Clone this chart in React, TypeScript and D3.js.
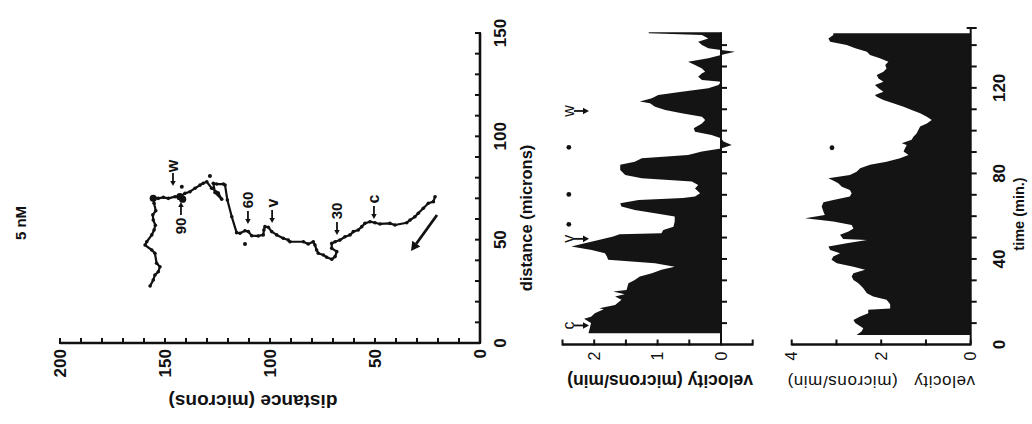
import React from "react";
import * as d3 from "d3";

const W = 1032;
const H = 424;
const FONT = "'Liberation Sans', Arial, sans-serif";

// Trajectory (5 nM): horizontal-axis distance and vertical-axis distance (microns)
const trackH = [21.4, 22.2, 24.6, 27.0, 29.4, 31.0, 33.3, 34.9, 40.5, 42.9, 47.6, 50.0, 52.4, 54.8, 56.3, 58.0, 60.3, 61.9, 64.3, 66.7, 69.0, 70.6, 70.6, 68.2, 69.0, 70.6, 73.0, 74.6, 77.0, 77.8, 78.6, 79.4, 81.8, 84.1, 90.5, 91.3, 93.7, 96.8, 99.2, 100.8, 102.4, 102.9, 103.2, 105.6, 108.7, 110.3, 111.9, 114.3, 115.9, 118.2, 120.3, 121.4, 122.2, 125.4, 127.0, 126.2, 123.0, 124.6, 127.8, 130.1, 131.8, 133.3, 135.7, 138.1, 140.5, 142.9, 145.2, 148.4, 150.8, 153.2, 155.6, 155.2, 154.4, 155.8, 155.6, 154.6, 155.2, 156.3, 158.7, 159.5, 156.3, 154.8, 154.0, 152.4, 153.2, 154.8, 155.6, 157.1];
const trackV = [70.8, 68.4, 67.6, 65.2, 62.8, 61.1, 59.5, 58.2, 57.1, 57.9, 57.6, 58.2, 58.7, 57.9, 56.3, 54.7, 53.9, 52.3, 51.4, 49.8, 49.0, 48.2, 45.8, 44.2, 41.8, 40.5, 41.5, 42.6, 43.4, 45.0, 47.4, 49.0, 47.9, 49.0, 49.0, 49.8, 50.7, 52.3, 53.9, 56.0, 56.3, 54.7, 52.3, 51.8, 51.9, 53.9, 54.3, 53.1, 53.4, 61.1, 69.2, 76.4, 76.9, 76.9, 77.3, 72.8, 69.6, 72.6, 74.9, 78.0, 77.3, 76.4, 74.9, 73.2, 72.4, 70.8, 70.8, 70.0, 70.5, 70.0, 70.0, 67.6, 64.0, 62.0, 59.5, 57.0, 54.7, 52.3, 49.0, 47.4, 45.0, 43.4, 38.6, 36.9, 34.5, 32.9, 30.5, 27.6];
const bigDotH = [155.6, 142.9, 141.6];
const bigDotV = [70.0, 70.8, 69.6];
const strayDotH = [128.6, 142.0, 111.9];
const strayDotV = [80.8, 75.6, 47.9];

const annLabels = ["w", "90", "60", "v", "30", "c"];
const annH = [146.2, 142.4, 110.5, 99.0, 68.1, 50.5];
const annV = [75.5, 68.7, 57.1, 57.6, 51.8, 59.5];
const annFromBelow = [false, true, false, false, false, false];

const distHTicks = [0, 50, 100, 150, 200];
const distVTicks = [0, 50, 100, 150];

// Velocity panel 1 (time in min, velocity microns/min)
const time1 = [5.3, 7.6, 10.0, 12.0, 13.0, 14.6, 16.5, 17.0, 18.5, 20.9, 22.4, 23.5, 24.8, 25.5, 28.6, 30.2, 31.8, 33.3, 34.9, 36.4, 38.0, 39.6, 41.1, 42.7, 44.2, 45.8, 47.3, 48.9, 50.5, 51.5, 52.0, 53.6, 55.1, 57.5, 59.8, 61.4, 62.9, 64.5, 66.0, 67.6, 68.5, 69.2, 70.7, 73.0, 74.6, 76.2, 77.7, 79.3, 81.6, 84.0, 85.5, 87.1, 88.6, 90.2, 91.7, 93.3, 94.9, 96.4, 98.0, 99.5, 101.1, 103.4, 105.0, 106.5, 108.1, 109.7, 111.2, 112.8, 113.6, 115.1, 116.7, 118.2, 119.8, 121.4, 122.9, 123.7, 125.2, 126.8, 127.6, 129.1, 130.7, 132.2, 133.8, 135.4, 136.9, 137.7, 138.5, 140.0, 141.6, 143.1, 144.7, 145.5, 146.0];
const vel1 = [2.09, 2.07, 2.05, 2.16, 2.05, 1.99, 1.85, 1.92, 1.67, 1.57, 1.67, 1.52, 1.70, 1.49, 1.46, 1.36, 1.28, 1.09, 0.94, 0.73, 1.04, 1.78, 1.80, 1.83, 2.04, 2.36, 2.15, 1.93, 1.70, 1.60, 0.94, 0.91, 0.75, 0.73, 0.73, 1.04, 1.36, 1.57, 1.59, 1.30, 0.60, 0.41, 0.33, 0.41, 0.36, 0.46, 1.25, 1.51, 1.59, 1.59, 1.36, 1.25, 0.52, 0.30, 0.0, -0.17, -0.04, 0.0, 0.15, 0.41, 0.43, 0.30, 0.25, 0.30, 0.62, 0.88, 1.04, 1.12, 1.28, 1.09, 0.99, 0.62, 0.20, 0.04, 0.0, 0.30, 0.36, 0.30, 0.25, 0.30, 0.41, 0.52, 0.20, 0.0, -0.22, 0.0, 0.20, 0.30, 0.36, 0.20, 0.30, 1.14, 1.14];
const vel1Ticks = [0, 1, 2];
const ann1Labels = ["c", "v", "w"];
const ann1Time = [8.9, 49.4, 109.2];
const dots1Time = [56.2, 70.2, 92.2];
const dots1Vel = 2.4;

// Velocity panel 2
const time2 = [4.5, 6.1, 7.6, 10.0, 11.5, 13.1, 14.6, 16.2, 16.8, 18.8, 20.9, 22.4, 24.0, 26.3, 28.6, 30.2, 31.8, 33.3, 34.9, 36.4, 38.0, 39.6, 41.1, 42.7, 44.2, 45.8, 47.3, 48.9, 49.3, 51.3, 52.8, 54.3, 55.9, 57.5, 59.0, 60.6, 62.1, 64.5, 66.5, 67.6, 69.2, 70.7, 72.3, 73.8, 75.4, 76.2, 77.7, 79.3, 80.8, 82.4, 84.0, 85.5, 87.1, 88.6, 90.2, 91.7, 93.3, 94.1, 95.7, 97.2, 98.7, 100.3, 101.9, 103.4, 105.0, 106.5, 108.1, 109.7, 111.2, 112.8, 114.3, 115.9, 116.7, 118.2, 119.8, 121.4, 122.9, 124.4, 126.0, 127.6, 129.1, 130.7, 132.2, 133.8, 135.4, 136.9, 138.5, 140.0, 141.6, 143.1, 144.7, 145.5];
const vel2 = [2.55, 2.44, 2.40, 2.58, 2.62, 2.47, 2.29, 2.29, 1.80, 1.80, 1.88, 2.18, 2.32, 2.40, 2.51, 2.62, 2.66, 2.62, 2.36, 2.62, 2.99, 3.11, 3.07, 2.92, 3.14, 3.18, 2.77, 2.32, 2.85, 2.92, 2.73, 2.62, 2.66, 3.07, 3.70, 3.26, 3.29, 3.33, 3.29, 3.07, 2.70, 2.66, 2.70, 2.88, 2.96, 3.03, 3.18, 2.70, 2.55, 2.47, 2.25, 1.88, 1.58, 1.39, 1.50, 1.47, 1.43, 1.54, 1.32, 1.28, 1.21, 1.17, 1.13, 0.98, 0.87, 0.98, 1.13, 1.32, 1.50, 1.73, 1.95, 2.10, 2.14, 1.95, 2.06, 2.14, 1.95, 2.06, 2.10, 1.95, 1.88, 1.91, 1.84, 2.03, 2.25, 2.32, 2.58, 2.77, 3.14, 3.18, 3.07, 3.07];
const vel2Ticks = [0, 2, 4];
const timeTicks = [0, 40, 80, 120];
const dot2Time = 92.0;
const dot2Vel = 3.1;

type TP = {
  x: number; y: number; rot: number; anchor?: string; size?: number; weight?: number;
  children: React.ReactNode; pre?: boolean; spacing?: number;
};
function RText({ x, y, rot, anchor = "middle", size = 14, weight = 700, children, pre, spacing }: TP) {
  return (
    <text
      transform={`translate(${x},${y}) rotate(${rot})`}
      textAnchor={anchor}
      dominantBaseline="central"
      fontSize={size}
      fontWeight={weight}
      fontFamily={FONT}
      fill="#111"
      letterSpacing={spacing}
      style={pre ? { whiteSpace: "pre" } : undefined}
    >
      {children}
    </text>
  );
}

function Arrow({ x1, y1, x2, y2, w = 1.8, head = 5 }: { x1: number; y1: number; x2: number; y2: number; w?: number; head?: number }) {
  const ang = Math.atan2(y2 - y1, x2 - x1);
  const bx = x2 - head * Math.cos(ang);
  const by = y2 - head * Math.sin(ang);
  const px = Math.sin(ang) * head * 0.55;
  const py = -Math.cos(ang) * head * 0.55;
  return (
    <g>
      <line x1={x1} y1={y1} x2={bx} y2={by} stroke="#111" strokeWidth={w} />
      <polygon points={`${x2},${y2} ${bx + px},${by + py} ${bx - px},${by - py}`} fill="#111" />
    </g>
  );
}

export default function App() {
  const xD = d3.scaleLinear().domain([0, 200]).range([480, 60]);
  const yD = d3.scaleLinear().domain([0, 150]).range([343, 33]);
  const tS = d3.scaleLinear().domain([0, 148]).range([344.5, 28]);
  const v1 = d3.scaleLinear().domain([-0.5, 2.5]).range([752.7, 562.5]);
  const v2 = d3.scaleLinear().domain([0, 4]).range([970.7, 791.7]);

  const track = trackH.map((h, i) => [xD(h), yD(trackV[i])] as [number, number]);
  const trackPath = d3.line()(track) || "";

  const p1 = time1.map((t, i) => ({ t, v: vel1[i] }));
  const p2 = time2.map((t, i) => ({ t, v: vel2[i] }));
  const area1 = d3.area<{ t: number; v: number }>().y((d) => tS(d.t)).x0(v1(0)).x1((d) => v1(d.v))(p1) || "";
  const area2 = d3.area<{ t: number; v: number }>().y((d) => tS(d.t)).x0(v2(0)).x1((d) => v2(d.v))(p2) || "";

  const axisW = 2.6;
  const k = "#111";
  const yBase = tS(0);

  return (
    <svg width={W} height={H} style={{ position: "absolute", left: 0, top: 0, background: "#fff" }}>
      <rect x={0} y={0} width={W} height={H} fill="#fff" />

      {/* ===== Trajectory plot ===== */}
      <line x1={xD(0)} y1={yD(0)} x2={xD(200)} y2={yD(0)} stroke={k} strokeWidth={axisW} />
      <line x1={xD(0)} y1={yD(0)} x2={xD(0)} y2={yD(150)} stroke={k} strokeWidth={axisW} />
      {d3.range(0, 201, 10).map((v) => (
        <line key={"hx" + v} x1={xD(v)} x2={xD(v)} y1={yD(0) + 1} y2={yD(0) - 5} stroke={k} strokeWidth={2} />
      ))}
      {d3.range(0, 151, 10).map((v) => (
        <line key={"vy" + v} x1={xD(0) - 5} x2={xD(0) + 1} y1={yD(v)} y2={yD(v)} stroke={k} strokeWidth={2} />
      ))}
      {distHTicks.map((v) => (
        <RText key={"hl" + v} x={xD(v)} y={yD(0) + 6} rot={-90} anchor="end" size={17}>{v}</RText>
      ))}
      {distVTicks.map((v) => (
        <RText key={"vl" + v} x={xD(0) + 20} y={yD(v)} rot={-90} size={17}>{v}</RText>
      ))}
      <RText x={253} y={401} rot={180} size={19}>distance (microns)</RText>
      <RText x={526} y={218} rot={-90} size={16.5}>distance (microns)</RText>
      <RText x={20} y={223} rot={-90} size={15}>5 nM</RText>

      <path d={trackPath} fill="none" stroke={k} strokeWidth={2.2} strokeLinejoin="round" />
      {track.map(([x, y], i) => (
        <circle key={"td" + i} cx={x} cy={y} r={1.8} fill={k} />
      ))}
      {bigDotH.map((h, i) => (
        <circle key={"bd" + i} cx={xD(h)} cy={yD(bigDotV[i])} r={3.6} fill={k} />
      ))}
      {strayDotH.map((h, i) => (
        <circle key={"sd" + i} cx={xD(h)} cy={yD(strayDotV[i])} r={2} fill={k} />
      ))}
      {annLabels.map((lab, i) => {
        const x = xD(annH[i]);
        const y = yD(annV[i]);
        const below = annFromBelow[i];
        const dir = below ? 1 : -1;
        const arrowStart = y + dir * 14;
        const textC = y + dir * (lab.length > 1 ? 25 : 21);
        return (
          <g key={"ann" + i}>
            <Arrow x1={x} y1={arrowStart} x2={x} y2={y + dir * 1} />
            <RText x={x} y={textC} rot={-90} size={lab.length > 1 ? 15 : 16}>{lab}</RText>
          </g>
        );
      })}
      <Arrow x1={437} y1={215} x2={411} y2={251} w={2.8} head={9} />

      {/* ===== Velocity panel 1 ===== */}
      <path d={area1} fill="#141414" />
      <line x1={v1(-0.5)} x2={v1(2.5)} y1={yBase} y2={yBase} stroke={k} strokeWidth={axisW} />
      {d3.range(-0.5, 2.51, 0.5).map((v) => (
        <line key={"v1t" + v} x1={v1(v)} x2={v1(v)} y1={yBase + 1} y2={yBase - 5} stroke={k} strokeWidth={2} />
      ))}
      <line x1={v1(0)} x2={v1(0)} y1={yBase} y2={tS(146)} stroke={k} strokeWidth={2} />
      {d3.range(10, 141, 10).map((t) => (
        <line key={"t1" + t} x1={v1(0)} x2={v1(0) + 6} y1={tS(t)} y2={tS(t)} stroke={k} strokeWidth={2} />
      ))}
      {vel1Ticks.map((v) => (
        <RText key={"v1l" + v} x={v1(v)} y={yBase + 7} rot={-90} anchor="end" size={16} weight={400}>{v}</RText>
      ))}
      <RText x={660} y={381} rot={180} size={17.5}>velocity (microns/min)</RText>
      {ann1Labels.map((lab, i) => {
        const y = tS(ann1Time[i]);
        return (
          <g key={"a1" + i}>
            <RText x={568} y={y} rot={-90} size={16} weight={400}>{lab}</RText>
            <Arrow x1={574} y1={y} x2={589} y2={y} w={1.8} head={6} />
          </g>
        );
      })}
      {dots1Time.map((t, i) => (
        <circle key={"d1" + i} cx={v1(dots1Vel)} cy={tS(t)} r={2.4} fill={k} />
      ))}

      {/* ===== Velocity panel 2 ===== */}
      <path d={area2} fill="#141414" />
      <line x1={v2(0)} x2={v2(4)} y1={yBase} y2={yBase} stroke={k} strokeWidth={axisW} />
      {d3.range(0, 4.01, 1).map((v) => (
        <line key={"v2t" + v} x1={v2(v)} x2={v2(v)} y1={yBase + 1} y2={yBase - 5} stroke={k} strokeWidth={2} />
      ))}
      <line x1={v2(0)} x2={v2(0)} y1={yBase} y2={tS(148)} stroke={k} strokeWidth={2} />
      {d3.range(10, 141, 10).map((t) => (
        <line key={"t2" + t} x1={v2(0)} x2={v2(0) + 6} y1={tS(t)} y2={tS(t)} stroke={k} strokeWidth={2} />
      ))}
      <line x1={v2(0) - 4} x2={v2(0) + 6} y1={tS(148)} y2={tS(148)} stroke={k} strokeWidth={2} />
      {vel2Ticks.map((v) => (
        <RText key={"v2l" + v} x={v2(v)} y={yBase + 7} rot={-90} anchor="end" size={16} weight={400}>{v}</RText>
      ))}
      <RText x={881} y={381} rot={180} size={17} weight={400} spacing={0.6} pre>{"velocity   (microns/min)"}</RText>
      {timeTicks.map((t) => (
        <RText key={"tl" + t} x={999} y={tS(t)} rot={-90} size={17}>{t}</RText>
      ))}
      <RText x={1019} y={214} rot={-90} size={14.5}>time (min.)</RText>
      <circle cx={v2(dot2Vel)} cy={tS(dot2Time)} r={2.4} fill={k} />
    </svg>
  );
}
